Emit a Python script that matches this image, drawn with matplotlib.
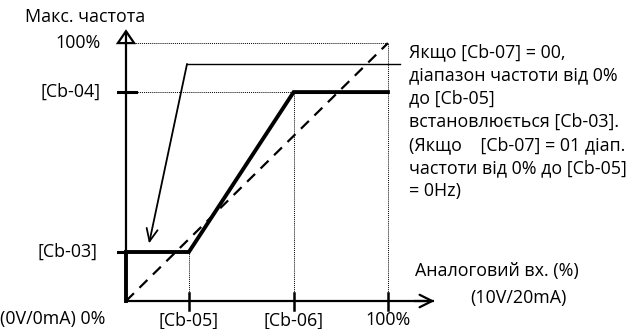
import matplotlib
matplotlib.use("Agg")
import matplotlib.pyplot as plt
from matplotlib.patches import Polygon

plt.rcParams['font.family'] = ['Open Sans', 'DejaVu Sans']

# Parameter values in percent of the analog input / max frequency
cb05 = 24.0   # input start
cb06 = 64.0   # input end
cb03 = 19.0   # output start
cb04 = 81.0   # output end

x_tick_labels = ["[Cb-05]", "[Cb-06]", "100%"]
y_tick_labels = ["100%", "[Cb-04]", "[Cb-03]"]

note_lines = [
    "Якщо [Cb-07] = 00,",
    "діапазон частоти від 0%",
    "до [Cb-05]",
    "встановлюється [Cb-03].",
    "(Якщо    [Cb-07] = 01 діап.",
    "частоти від 0% до [Cb-05]",
    "= 0Hz)",
]

W, H = 636, 329
fig = plt.figure(figsize=(W / 100, H / 100), dpi=100)
ax = fig.add_axes([0, 0, 1, 1])
ax.set_xlim(-48.1, 194.7)
ax.set_ylim(-10.85, 116.7)
ax.axis("off")

FS = 12.9
k = "black"

# reference guides (dotted)
dot = dict(color=k, lw=0.7, ls=(0, (1, 1)))
ax.plot([0, 100], [100, 100], **dot)
ax.plot([0, cb06], [cb04, cb04], **dot)
ax.plot([cb05, cb05], [0, cb03], **dot)
ax.plot([cb06, cb06], [0, cb04], **dot)
ax.plot([100, 100], [0, 100], **dot)

# 1:1 reference (dashed)
ax.plot([0, 100], [0, 100], color=k, lw=1.6, ls=(0, (5, 3.5)))

# axes with arrow heads
ax.plot([0, 0], [0, 104.5], color=k, lw=1.6, solid_capstyle="butt")
ax.add_patch(Polygon([[-3.1, 100], [3.1, 100], [0, 104.6]], closed=True,
                     fill=False, ec=k, lw=1.6))
ax.plot([0, 117.5], [0, 0], color=k, lw=1.6, solid_capstyle="butt")
ax.annotate("", xy=(117.8, 0), xytext=(110, 0),
            arrowprops=dict(arrowstyle="->,head_length=0.9,head_width=0.45",
                            color=k, lw=1.6, shrinkA=0, shrinkB=0))

# ticks
for xv in (cb05, cb06, 100):
    ax.plot([xv, xv], [-3.5, 3.3], color=k, lw=1.8)
ax.plot([-3.1, 3.8], [cb04, cb04], color=k, lw=2.2)

# characteristic curve (bold)
ax.plot([0, 0, cb05, cb06, 100], [0, cb03, cb03, cb04, cb04],
        color=k, lw=2.8, solid_joinstyle="miter")
ax.plot([-3.1, 0], [cb03, cb03], color=k, lw=2.2)

# callout line and arrow
ax.plot([23.3, 104.6], [91.9, 91.9], color=k, lw=1.0)
ax.annotate("", xy=(8.8, 22.3), xytext=(23.3, 91.9),
            arrowprops=dict(arrowstyle="->,head_length=0.9,head_width=0.4",
                            color=k, lw=1.3, shrinkA=0, shrinkB=0))

# axis labels
ax.text(-38.5, 110.1, "Макс. частота", fontsize=FS, ha="left", va="center")
ax.text(-9.8, 100, y_tick_labels[0], fontsize=FS, ha="right", va="center")
ax.text(-9.8, cb04, y_tick_labels[1], fontsize=FS, ha="right", va="center")
ax.text(-11.0, cb03, y_tick_labels[2], fontsize=FS, ha="right", va="center")

ax.text(-48.1, -6.8, "(0V/0mA) 0%", fontsize=FS, ha="left", va="center")
for xv, lab in zip((cb05, cb06, 100), x_tick_labels):
    ax.text(xv, -7.5, lab, fontsize=FS, ha="center", va="center")

ax.text(110.3, 11.6, "Аналоговий вх. (%)", fontsize=FS, ha="left", va="center")
ax.text(131.3, 1.2, "(10V/20mA)", fontsize=FS, ha="left", va="center")

# note text block
y0 = 96.5
for i, line in enumerate(note_lines):
    ax.text(108.0, y0 - i * 9.0, line, fontsize=FS, ha="left", va="center")

fig.savefig("out.png", dpi=100)
